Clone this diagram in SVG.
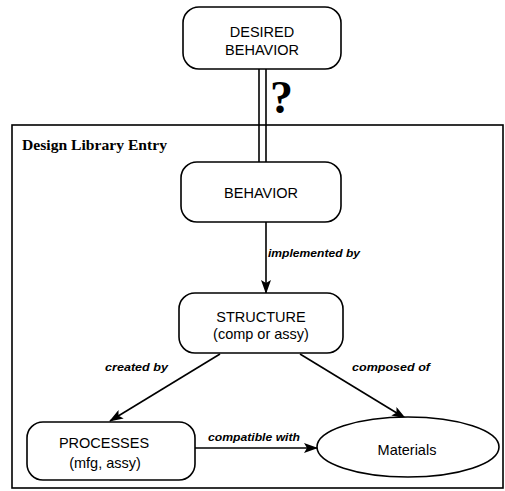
<svg xmlns="http://www.w3.org/2000/svg" width="505" height="491" viewBox="0 0 505 491">
  <defs>
    <marker id="arrow" viewBox="0 0 14 10" refX="13" refY="5" markerWidth="14" markerHeight="10" markerUnits="userSpaceOnUse" orient="auto">
      <path d="M0,0 L14,5 L0,10 L3,5 Z" fill="#000"/>
    </marker>
  </defs>
  <style>
    .box { fill: #fff; stroke: #000; stroke-width: 1.6; }
    .frame { fill: none; stroke: #000; stroke-width: 1.6; }
    .node-text { font-family: "Liberation Sans", Arial, sans-serif; font-size: 14.5px; fill: #000; text-anchor: middle; }
    .edge { stroke: #000; stroke-width: 1.6; fill: none; }
    .edge-label { font-family: "Liberation Sans", Arial, sans-serif; font-size: 11px; font-style: italic; font-weight: bold; fill: #000; }
    .title { font-family: "Liberation Serif", "Times New Roman", serif; font-size: 14px; font-weight: bold; fill: #000; }
  </style>
  <rect width="505" height="491" fill="#fff"/>

  <!-- library entry frame -->
  <g id="library-entry">
    <rect class="frame" x="12" y="125" width="491" height="363"/>
    <text class="title" x="22" y="150" textLength="145" lengthAdjust="spacingAndGlyphs">Design Library Entry</text>
  </g>

  <!-- connectors -->
  <g id="connectors">
    <line class="edge" x1="259" y1="69" x2="259" y2="162"/>
    <line class="edge" x1="266" y1="69" x2="266" y2="162"/>
    <text x="270" y="113" font-family="'Liberation Serif', 'Times New Roman', serif" font-size="46" font-weight="bold">?</text>
    <line class="edge" x1="266" y1="222" x2="266" y2="293" marker-end="url(#arrow)"/>
    <text class="edge-label" x="268" y="257" textLength="92" lengthAdjust="spacingAndGlyphs">implemented by</text>
    <line class="edge" x1="220" y1="354" x2="110" y2="421" marker-end="url(#arrow)"/>
    <text class="edge-label" x="105" y="371" textLength="63" lengthAdjust="spacingAndGlyphs">created by</text>
    <line class="edge" x1="300" y1="354" x2="405" y2="418" marker-end="url(#arrow)"/>
    <text class="edge-label" x="352" y="371" textLength="78" lengthAdjust="spacingAndGlyphs">composed of</text>
    <line class="edge" x1="195" y1="448" x2="317" y2="448" marker-end="url(#arrow)"/>
    <text class="edge-label" x="208" y="441" textLength="92" lengthAdjust="spacingAndGlyphs">compatible with</text>
  </g>

  <g id="desired-behavior">
    <rect class="box" x="183" y="7" width="158" height="62" rx="16"/>
    <text class="node-text" x="262" y="37">DESIRED</text>
    <text class="node-text" x="262" y="55">BEHAVIOR</text>
  </g>

  <g id="behavior">
    <rect class="box" x="181" y="162" width="160" height="60" rx="16"/>
    <text class="node-text" x="261" y="198">BEHAVIOR</text>
  </g>

  <g id="structure">
    <rect class="box" x="179" y="293" width="164" height="60" rx="16"/>
    <text class="node-text" x="261" y="322">STRUCTURE</text>
    <text class="node-text" x="261" y="339">(comp or assy)</text>
  </g>

  <g id="processes">
    <rect class="box" x="27" y="422" width="168" height="58" rx="16"/>
    <text class="node-text" x="104" y="448">PROCESSES</text>
    <text class="node-text" x="105" y="468">(mfg, assy)</text>
  </g>

  <g id="materials">
    <ellipse class="box" cx="408" cy="447" rx="91" ry="30"/>
    <text class="node-text" x="407" y="455">Materials</text>
  </g>
</svg>
